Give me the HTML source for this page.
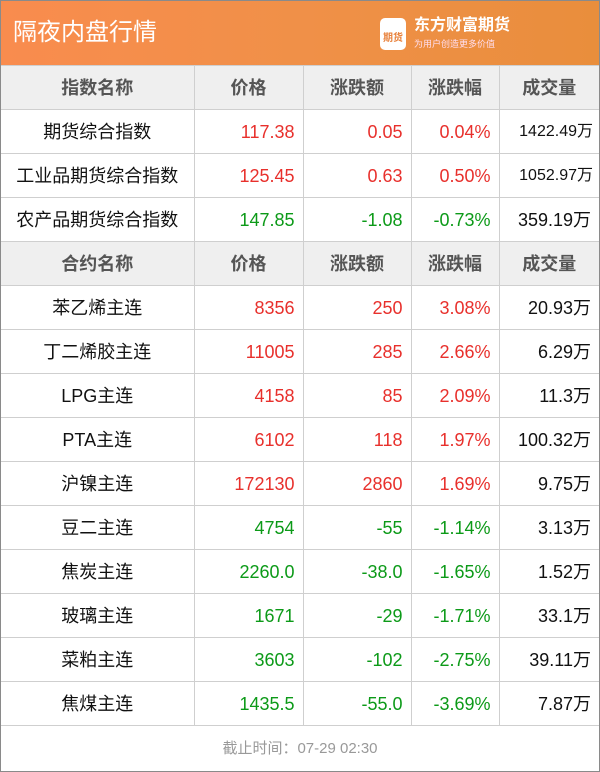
<!DOCTYPE html><html><head><meta charset="utf-8"><style>
*{margin:0;padding:0;box-sizing:border-box}
body{width:600px;height:772px;background:#fff;font-family:"Liberation Sans","Noto Sans CJK SC",sans-serif;position:relative;overflow:hidden}
.frame{position:absolute;left:0;top:0;width:600px;height:772px;border:1px solid #8a8a8a}
.hd{position:absolute;left:1px;top:1px;width:598px;height:64px;background:linear-gradient(90deg,#f98c4e 0%,#f09048 50%,#e98e3c 100%)}
.hd .t{position:absolute;left:12px;top:16px;color:#fff;font-size:24px;line-height:32px}
.logo{position:absolute;left:379px;top:17px;width:26px;height:32px;background:#fff;border-radius:5px;color:#e8803a;font-size:10px;font-weight:bold;text-align:center;padding-top:15px;line-height:12px}
.b1{position:absolute;left:413px;top:16px;color:#fff;font-size:16px;font-weight:bold;line-height:18px}
.b2{position:absolute;left:413px;top:38px;color:#fde;font-size:9px;line-height:10px}
table{position:absolute;left:1px;top:65px;border-collapse:collapse;width:598px}
td{height:44px;border:1px solid #cfcfcf;font-size:18px;padding:0 8px;text-align:right;white-space:nowrap;line-height:20px;vertical-align:middle}
td:first-child{text-align:center;border-left:none}
td:last-child{border-right:none}
td span{display:inline-block;line-height:20px;vertical-align:top}
tr.h td{background:#efefef;color:#555;font-weight:bold;text-align:center}
.r{color:#e8302c}.g{color:#0c9a18}.k{color:#111}
.ft{position:absolute;left:0;top:727px;width:600px;text-align:center;color:#999;font-size:15px;line-height:44px}
</style></head><body>
<div class="hd"><div class="t">隔夜内盘行情</div><div class="logo">期货</div><div class="b1">东方财富期货</div><div class="b2">为用户创造更多价值</div></div>
<table>
<colgroup><col style="width:193px"><col style="width:109px"><col style="width:108px"><col style="width:88px"><col style="width:100px"></colgroup>
<tr class="h"><td>指数名称</td><td>价格</td><td>涨跌额</td><td>涨跌幅</td><td>成交量</td></tr>
<tr><td class="k">期货综合指数</td><td class="r">117.38</td><td class="r">0.05</td><td class="r">0.04%</td><td class="k" style="font-size:16px;padding-right:6px"><span>1422.49万</span></td></tr>
<tr><td class="k">工业品期货综合指数</td><td class="r">125.45</td><td class="r">0.63</td><td class="r">0.50%</td><td class="k" style="font-size:16px;padding-right:6px"><span>1052.97万</span></td></tr>
<tr><td class="k">农产品期货综合指数</td><td class="g">147.85</td><td class="g">-1.08</td><td class="g">-0.73%</td><td class="k"><span>359.19万</span></td></tr>
<tr class="h"><td>合约名称</td><td>价格</td><td>涨跌额</td><td>涨跌幅</td><td>成交量</td></tr>
<tr><td class="k">苯乙烯主连</td><td class="r">8356</td><td class="r">250</td><td class="r">3.08%</td><td class="k"><span>20.93万</span></td></tr>
<tr><td class="k">丁二烯胶主连</td><td class="r">11005</td><td class="r">285</td><td class="r">2.66%</td><td class="k"><span>6.29万</span></td></tr>
<tr><td class="k"><span>LPG主连</span></td><td class="r">4158</td><td class="r">85</td><td class="r">2.09%</td><td class="k"><span>11.3万</span></td></tr>
<tr><td class="k"><span>PTA主连</span></td><td class="r">6102</td><td class="r">118</td><td class="r">1.97%</td><td class="k"><span>100.32万</span></td></tr>
<tr><td class="k">沪镍主连</td><td class="r">172130</td><td class="r">2860</td><td class="r">1.69%</td><td class="k"><span>9.75万</span></td></tr>
<tr><td class="k">豆二主连</td><td class="g">4754</td><td class="g">-55</td><td class="g">-1.14%</td><td class="k"><span>3.13万</span></td></tr>
<tr><td class="k">焦炭主连</td><td class="g">2260.0</td><td class="g">-38.0</td><td class="g">-1.65%</td><td class="k"><span>1.52万</span></td></tr>
<tr><td class="k">玻璃主连</td><td class="g">1671</td><td class="g">-29</td><td class="g">-1.71%</td><td class="k"><span>33.1万</span></td></tr>
<tr><td class="k">菜粕主连</td><td class="g">3603</td><td class="g">-102</td><td class="g">-2.75%</td><td class="k"><span>39.11万</span></td></tr>
<tr><td class="k">焦煤主连</td><td class="g">1435.5</td><td class="g">-55.0</td><td class="g">-3.69%</td><td class="k"><span>7.87万</span></td></tr>
</table>
<div class="ft">截止时间：07-29 02:30</div>
<div class="frame"></div>
</body></html>
